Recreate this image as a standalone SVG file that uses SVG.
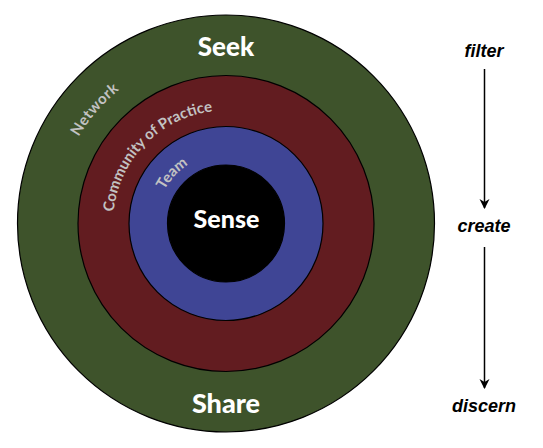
<svg xmlns="http://www.w3.org/2000/svg" width="543" height="448" viewBox="0 0 543 448">
  <style>
    .ring { stroke: #000; stroke-width: 1.2; }
    .big { font-family: Lato, "Open Sans", sans-serif; font-weight: 900; fill: #ffffff; text-anchor: middle; }
    .arc { font-family: Lato, "Open Sans", sans-serif; font-weight: 700; font-size: 15px; fill: #c2c2c2; text-anchor: middle; }
    .side { font-family: "Liberation Sans", Arial, sans-serif; font-weight: 700; font-style: italic; font-size: 18px; fill: #000; text-anchor: middle; }
    .conn { stroke: #000; stroke-width: 1.5; fill: none; }
  </style>
  <defs>
    <marker id="arrow" viewBox="0 0 10 12" refX="9" refY="6" markerWidth="10" markerHeight="12" markerUnits="userSpaceOnUse" orient="auto">
      <path d="M0,1 L10,6 L0,11 L3,6 Z" fill="#000"/>
    </marker>
    <path id="pNetwork" d="M 57.1 250.25 A 171 171 0 0 1 228.98 52.53" fill="none"/>
    <path id="pCommunity" d="M 113.52 234.33 A 113 113 0 0 1 234.87 110.85" fill="none"/>
    <path id="pTeam" d="M 156.52 232.03 A 70 70 0 0 1 229.66 153.6" fill="none"/>
  </defs>
  <rect width="543" height="448" fill="#ffffff"/>

  <g id="network">
    <circle class="ring" cx="226" cy="223.5" r="208.5" fill="#3e532b"/>
    <text class="big" x="226" y="56" font-size="26">Seek</text>
    <text class="big" x="226" y="413" font-size="27">Share</text>
    <text class="arc" letter-spacing="0.5"><textPath href="#pNetwork" startOffset="50%">Network</textPath></text>
  </g>
  <g id="community">
    <circle class="ring" cx="226" cy="223.5" r="148" fill="#621c20"/>
    <text class="arc"><textPath href="#pCommunity" startOffset="50%">Community of Practice</textPath></text>
  </g>
  <g id="team">
    <circle class="ring" cx="226" cy="223.5" r="97" fill="#3f4595"/>
    <text class="arc"><textPath href="#pTeam" startOffset="50%">Team</textPath></text>
  </g>
  <g id="sense">
    <circle class="ring" cx="226" cy="223.5" r="58.5" fill="#000000"/>
    <text class="big" x="226.5" y="228" font-size="25">Sense</text>
  </g>

  <g id="filter"><text class="side" x="484" y="57">filter</text></g>
  <g id="create"><text class="side" x="484" y="232">create</text></g>
  <g id="discern"><text class="side" x="484" y="412">discern</text></g>

  <g id="connectors">
    <line class="conn" x1="484.5" y1="69" x2="484.5" y2="208" marker-end="url(#arrow)"/>
    <line class="conn" x1="484.5" y1="247" x2="484.5" y2="388" marker-end="url(#arrow)"/>
  </g>
</svg>
